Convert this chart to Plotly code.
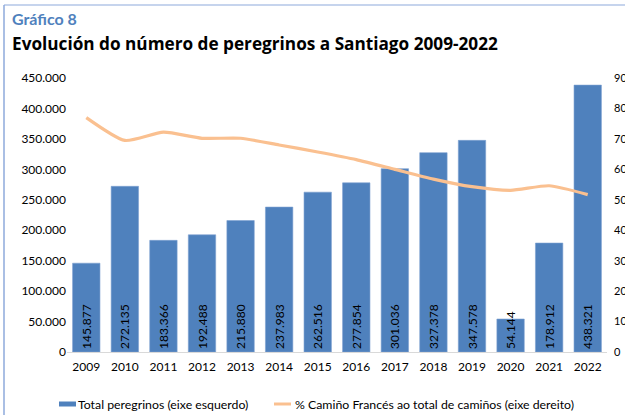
import plotly.graph_objects as go

years = ["2009", "2010", "2011", "2012", "2013", "2014", "2015",
         "2016", "2017", "2018", "2019", "2020", "2021", "2022"]
pilgrims = [145877, 272135, 183366, 192488, 215880, 237983, 262516,
            277854, 301036, 327378, 347578, 54144, 178912, 438321]
frances_pct = [77, 69.5, 72.2, 70.2, 70.2, 68, 65.7,
               63.2, 60, 56.8, 54.3, 53.1, 54.6, 51.7]
bar_name = "Total peregrinos (eixe esquerdo)"
line_name = "% Camiño Francés ao total de camiños (eixe dereito)"

W, H = 625, 415
L, R, T, B = 67, 18, 78, 63
pw, ph = W - L - R, H - T - B

def px(x):
    return (x - L) / pw

def py(y):
    return (H - B - y) / ph

FONT = "Lato, 'Open Sans', sans-serif"
BLUE = "#4f81bd"
ORANGE = "#fac090"

fig = go.Figure()
fig.add_trace(go.Bar(
    x=years, y=pilgrims, name=bar_name,
    marker=dict(color=BLUE, line=dict(color="#7c9fd0", width=0.6)),
    texttemplate="%{y:,d}", textposition="inside", insidetextanchor="start",
    textangle=-90, constraintext="none",
    textfont=dict(color="#000000", size=12, family=FONT),
    cliponaxis=False, showlegend=False,
))
fig.add_trace(go.Scatter(
    x=years, y=frances_pct, name=line_name,
    mode="lines", line=dict(color=ORANGE, width=3.2, shape="spline", smoothing=0.6),
    yaxis="y2", showlegend=False,
))

fig.update_layout(
    width=W, height=H,
    margin=dict(l=L, r=R, t=T, b=B, autoexpand=False),
    paper_bgcolor="white", plot_bgcolor="white",
    separators=",.",
    font=dict(family=FONT, size=11, color="#000000"),
    bargap=0.29,
    showlegend=False,
    xaxis=dict(type="category", showgrid=False, showline=True, linecolor="#d9d9d9",
               linewidth=1, ticks="", tickfont=dict(size=12), ticklabelstandoff=4,
               automargin=False),
    yaxis=dict(range=[0, 450000], dtick=50000, tickformat=",d", showgrid=False,
               showline=False, zeroline=False, ticks="", tickfont=dict(size=12),
               automargin=False),
    yaxis2=dict(range=[0, 90], dtick=10, overlaying="y", side="right", showgrid=False,
                showline=False, zeroline=False, ticks="", tickfont=dict(size=11),
                ticklabelstandoff=6, automargin=False),
    annotations=[
        dict(text="<b>Gráfico 8</b>", xref="paper", yref="paper", x=px(10), y=py(19),
             xanchor="left", yanchor="middle", showarrow=False,
             font=dict(size=16, color=BLUE, family=FONT)),
        dict(text="<b>Evolución do número de peregrinos a Santiago 2009-2022</b>",
             xref="paper", yref="paper", x=px(10), y=py(43),
             xanchor="left", yanchor="middle", showarrow=False,
             font=dict(size=17.2, color="#000000", family="'Open Sans', sans-serif")),
        dict(text=bar_name, xref="paper", yref="paper", x=px(76), y=py(404),
             xanchor="left", yanchor="middle", showarrow=False,
             font=dict(size=12.3, color="#000000", family=FONT)),
        dict(text=line_name, xref="paper", yref="paper", x=px(293), y=py(404),
             xanchor="left", yanchor="middle", showarrow=False,
             font=dict(size=12.3, color="#000000", family=FONT)),
    ],
    shapes=[
        dict(type="line", xref="paper", yref="paper", x0=px(4), x1=px(4),
             y0=py(5), y1=py(416), line=dict(color="#8eaadb", width=1.5)),
        dict(type="line", xref="paper", yref="paper", x0=px(4), x1=px(626),
             y0=py(5), y1=py(5), line=dict(color="#8eaadb", width=1.2)),
        dict(type="rect", xref="paper", yref="paper", x0=px(59), x1=px(76),
             y0=py(401.5), y1=py(406.5), fillcolor=BLUE, line=dict(width=0)),
        dict(type="line", xref="paper", yref="paper", x0=px(274), x1=px(291),
             y0=py(404), y1=py(404), line=dict(color=ORANGE, width=3)),
    ],
)

fig.write_html("out.html", config={"displayModeBar": False},
               post_script="document.body.style.margin='0';")
